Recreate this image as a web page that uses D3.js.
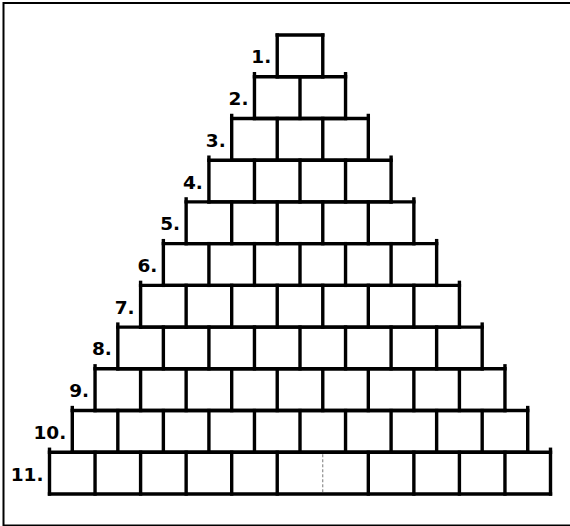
<!DOCTYPE html>
<html>
<head>
<meta charset="utf-8">
<script src="https://cdn.jsdelivr.net/npm/d3@7"></script>
<style>
  body { margin: 0; background: #fff; }
  svg { display: block; }
</style>
</head>
<body>
<div id="chart"></div>
<script>
const width = 570, height = 526;

// rows of the pyramid, top to bottom
const rowLabels = ['1.', '2.', '3.', '4.', '5.', '6.', '7.', '8.', '9.', '10.', '11.'];
const boxCounts = [1, 2, 3, 4, 5, 6, 7, 8, 9, 10, 11];
// divider drawn dashed: [row index, boundary index from the left]
const dashedDivider = [10, 6];

const svg = d3.select('#chart').append('svg')
  .attr('width', width)
  .attr('height', height);

// outer frame (right edge runs off the page)
svg.append('rect')
  .attr('x', 3.5).attr('y', 3)
  .attr('width', 580).attr('height', 522.5)
  .attr('fill', 'none')
  .attr('stroke', '#000')
  .attr('stroke-width', 2);

const maxBoxes = d3.max(boxCounts);

// x in box units, centred on 0
const x = d3.scaleLinear()
  .domain([-maxBoxes / 2, maxBoxes / 2])
  .range([49.5, 550.5]);

const y = d3.scaleBand()
  .domain(rowLabels)
  .range([35, 494])
  .padding(0);

const rows = rowLabels.map((label, i) => ({label, n: boxCounts[i], i}));

const g = svg.append('g')
  .attr('stroke', '#000')
  .attr('stroke-width', 3.4)
  .attr('stroke-linecap', 'square');

rows.forEach(r => {
  const y0 = y(r.label), y1 = y0 + y.bandwidth();
  const left = -r.n / 2;
  // top and bottom edges
  g.append('line')
    .attr('x1', x(left)).attr('x2', x(-left))
    .attr('y1', y0).attr('y2', y0);
  g.append('line')
    .attr('x1', x(left)).attr('x2', x(-left))
    .attr('y1', y1).attr('y2', y1);
  // verticals; outer ones poke a little above the top edge (not on the top box)
  d3.range(r.n + 1).forEach(k => {
    const xv = x(left + k);
    const outer = r.i > 0 && (k === 0 || k === r.n);
    const dashed = r.i === dashedDivider[0] && k === dashedDivider[1];
    const ln = g.append('line')
      .attr('x1', xv).attr('x2', xv)
      .attr('y1', outer ? y0 - 3 : y0)
      .attr('y2', y1);
    if (dashed) {
      ln.attr('stroke', '#777')
        .attr('stroke-width', 1)
        .attr('stroke-linecap', 'butt')
        .attr('stroke-dasharray', '3,2')
        .attr('y1', y0 + 2).attr('y2', y1 - 2);
    }
  });
});

svg.append('g')
  .attr('font-family', '"DejaVu Sans", Verdana, sans-serif')
  .attr('font-weight', 'bold')
  .attr('font-size', 18.5)
  .attr('text-anchor', 'end')
  .selectAll('text')
  .data(rows)
  .join('text')
    .attr('x', d => x(-d.n / 2) - 6)
    .attr('y', d => y(d.label) + y.bandwidth() / 2 + 1)
    .attr('dy', '0.35em')
    .text(d => d.label);
</script>
</body>
</html>
